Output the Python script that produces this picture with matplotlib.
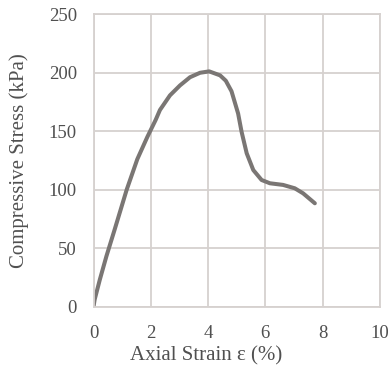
import numpy as np
import matplotlib.pyplot as plt

# Curva tensión-deformación (compresión no confinada)
strain = [0.0, 0.04, 0.22, 0.45, 0.74, 1.16, 1.53, 1.88, 2.17, 2.32, 2.67, 3.02,
          3.37, 3.72, 4.04, 4.42, 4.62, 4.82, 5.05, 5.17, 5.35, 5.58, 5.87, 6.16,
          6.62, 7.03, 7.32, 7.73]
stress = [0.0, 6.0, 23.0, 43.0, 66.0, 100.0, 126.0, 145.0, 159.5, 168.0, 180.5, 189.0,
          196.0, 199.8, 201.0, 197.6, 193.0, 184.0, 165.0, 149.5, 131.0, 116.7, 108.2,
          105.4, 104.0, 101.1, 96.8, 88.3]

plt.rcParams['font.family'] = 'Liberation Serif'

fig = plt.figure(figsize=(3.88, 3.69), dpi=100)
ax = fig.add_axes([0.241, 0.169, 0.738, 0.793])

grid_col = '#d6d1cf'
text_col = '#505050'

ax.plot(strain, stress, color='#7a7674', lw=2.9, solid_capstyle='round',
        solid_joinstyle='round')

ax.set_xlim(0, 10)
ax.set_ylim(0, 250)
ax.set_xticks(np.arange(0, 11, 2))
ax.set_yticks(np.arange(0, 251, 50))
ax.grid(True, color=grid_col, lw=1.3)
ax.set_axisbelow(True)
for s in ax.spines.values():
    s.set_color(grid_col)
    s.set_linewidth(1.3)

ax.tick_params(length=0, labelsize=13.5, colors=text_col)
ax.tick_params(axis='y', pad=12)
ax.tick_params(axis='x', pad=13)

ax.set_xlabel('Axial Strain ε (%)', fontsize=15, color=text_col)
ax.set_ylabel('Compressive Stress (kPa)', fontsize=15, color=text_col)
ax.xaxis.set_label_coords(0.393, -0.135)
ax.yaxis.set_label_coords(-0.225, 0.5)

fig.savefig('out.png', dpi=100)
